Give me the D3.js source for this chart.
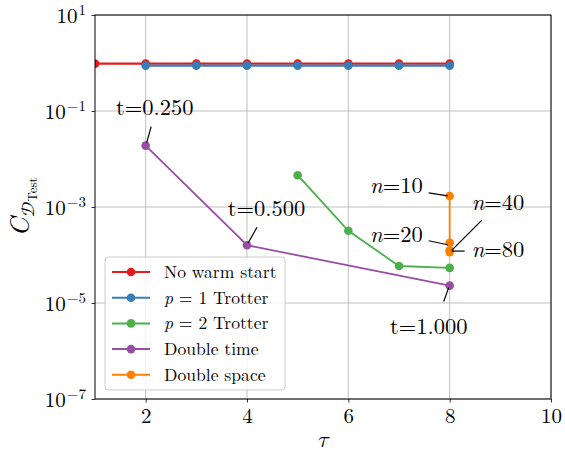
<!DOCTYPE html>
<html>
<head>
<meta charset="utf-8">
<script src="https://cdnjs.cloudflare.com/ajax/libs/d3/7.8.5/d3.min.js"></script>
<style>
  body { margin: 0; background: #fff; }
</style>
</head>
<body>
<div id="chart"></div>
<script>
// data
var seriesNames = ["No warm start", "p = 1 Trotter", "p = 2 Trotter", "Double time", "Double space"];
var seriesColors = ["#e41a1c", "#377eb8", "#4daf4a", "#984ea3", "#ff7f00"];

var tauNoWarm = [1, 2, 3, 4, 5, 6, 7, 8];
var costNoWarm = [0.97, 0.97, 0.97, 0.97, 0.97, 0.97, 0.97, 0.97];

var tauP1 = [2, 3, 4, 5, 6, 7, 8];
var costP1 = [0.88, 0.88, 0.88, 0.88, 0.88, 0.88, 0.88];

var tauP2 = [5, 6, 7, 8];
var costP2 = [4.6e-3, 3.2e-4, 5.9e-5, 5.4e-5];

var tauDoubleTime = [2, 4, 8];
var costDoubleTime = [1.9e-2, 1.6e-4, 2.3e-5];
var labelsDoubleTime = ["t=0.250", "t=0.500", "t=1.000"];

var tauDoubleSpace = [8, 8, 8, 8];
var costDoubleSpace = [1.7e-3, 1.8e-4, 1.25e-4, 1.15e-4];
var labelsDoubleSpace = ["10", "20", "40", "80"];

var xTicks = [2, 4, 6, 8, 10];
var yTickExps = [1, -1, -3, -5, -7];

var svgWidth = 565;
var svgHeight = 460;
var margin = { top: 15, right: 14, bottom: 61, left: 95 };
var width = svgWidth - margin.left - margin.right;
var height = svgHeight - margin.top - margin.bottom;

var mathFont = "'Latin Modern Math', 'STIX Two Math', 'Latin Modern Roman', serif";

var svg = d3.select("#chart")
  .append("svg")
  .attr("width", svgWidth)
  .attr("height", svgHeight)
  .style("font-family", "'Latin Modern Roman', 'CMU Serif', serif");

var chartGroup = svg.append("g")
  .attr("transform", `translate(${margin.left}, ${margin.top})`);

var xScale = d3.scaleLinear().domain([1, 10]).range([0, width]);
var yScale = d3.scaleLog().domain([1e-7, 10]).range([height, 0]);

svg.append("defs").append("clipPath")
  .attr("id", "plot-clip")
  .append("rect")
  .attr("width", width)
  .attr("height", height);

// grid
var grid = chartGroup.append("g");
xTicks.forEach(function(t) {
  grid.append("line")
    .attr("x1", xScale(t)).attr("x2", xScale(t))
    .attr("y1", 0).attr("y2", height)
    .attr("stroke", "#b0b0b0").attr("stroke-width", 0.8);
});
yTickExps.forEach(function(e) {
  grid.append("line")
    .attr("x1", 0).attr("x2", width)
    .attr("y1", yScale(Math.pow(10, e))).attr("y2", yScale(Math.pow(10, e)))
    .attr("stroke", "#b0b0b0").attr("stroke-width", 0.8);
});

// axes
var bottomAxis = d3.axisBottom(xScale).tickValues(xTicks).tickSize(3.5).tickPadding(6).tickFormat(d3.format("d"));
var xAxis = chartGroup.append("g")
  .attr("transform", `translate(0, ${height})`)
  .call(bottomAxis)
  .attr("font-family", null)
  .attr("font-size", null);
xAxis.select(".domain").remove();
xAxis.selectAll("text")
  .attr("font-size", 21)
  .attr("fill", "#000");

var leftAxis = d3.axisLeft(yScale)
  .tickValues(yTickExps.map(function(e) { return Math.pow(10, e); }))
  .tickSize(3.5).tickPadding(5)
  .tickFormat("");
var yAxis = chartGroup.append("g").call(leftAxis)
  .attr("font-family", null)
  .attr("font-size", null);
yAxis.select(".domain").remove();
yAxis.selectAll(".tick").each(function(d) {
  var e = Math.round(Math.log10(d));
  var txt = d3.select(this).append("text")
    .attr("x", -9)
    .attr("y", 7.5)
    .attr("text-anchor", "end")
    .attr("fill", "#000")
    .attr("font-size", 21);
  txt.append("tspan").text("10");
  txt.append("tspan")
    .attr("dx", 1)
    .attr("dy", -8)
    .attr("font-size", 15)
    .text(e < 0 ? "\u2212" + Math.abs(e) : String(e));
});
chartGroup.selectAll(".tick line").attr("stroke", "#000").attr("stroke-width", 0.8);

// series
var plot = chartGroup.append("g").attr("clip-path", "url(#plot-clip)");

var allSeries = [
  { tau: tauNoWarm, cost: costNoWarm },
  { tau: tauP1, cost: costP1 },
  { tau: tauP2, cost: costP2 },
  { tau: tauDoubleTime, cost: costDoubleTime },
  { tau: tauDoubleSpace, cost: costDoubleSpace }
];

var line = d3.line()
  .x(function(d) { return xScale(d[0]); })
  .y(function(d) { return yScale(d[1]); });

allSeries.forEach(function(s, i) {
  var pts = d3.zip(s.tau, s.cost);
  plot.append("path")
    .datum(pts)
    .attr("d", line)
    .attr("fill", "none")
    .attr("stroke", seriesColors[i])
    .attr("stroke-width", i < 2 ? 2.2 : 1.8);
  plot.selectAll(null)
    .data(pts)
    .enter()
    .append("circle")
    .attr("cx", function(d) { return xScale(d[0]); })
    .attr("cy", function(d) { return yScale(d[1]); })
    .attr("r", 4.3)
    .attr("fill", seriesColors[i]);
});

// frame
chartGroup.append("rect")
  .attr("width", width)
  .attr("height", height)
  .attr("fill", "none")
  .attr("stroke", "#000")
  .attr("stroke-width", 1);

// annotations
// [text dx, text dy, anchor, line x1, y1, x2, y2] relative to the point
var timeOffsets = [
  [9, -31, "middle", 1, -3, 5.5, -19],
  [19.5, -29, "middle", 1, -2, 10, -18],
  [-21, 48, "middle", -1, 2, -6, 16]
];
var spaceOffsets = [
  [-27, -3, "end", -2, 0, -21, -3],
  [-27, -1, "end", -2, 2, -21, -2],
  [22, -40, "start", 2, 0, 32, -30],
  [22, 5, "start", 2, -1, 15, -1]
];

function annotate(x, y, off, parts) {
  var px = xScale(x), py = yScale(y);
  chartGroup.append("line")
    .attr("x1", px + off[3]).attr("y1", py + off[4])
    .attr("x2", px + off[5]).attr("y2", py + off[6])
    .attr("stroke", "#000").attr("stroke-width", 1.2);
  var t = chartGroup.append("text")
    .attr("x", px + off[0])
    .attr("y", py + off[1])
    .attr("text-anchor", off[2])
    .attr("font-size", 22.5)
    .attr("fill", "#000");
  parts.forEach(function(p) {
    t.append("tspan").attr("font-style", p[1] ? "italic" : "normal").text(p[0]);
  });
}

tauDoubleTime.forEach(function(t, i) {
  annotate(t, costDoubleTime[i], timeOffsets[i], [[labelsDoubleTime[i], false]]);
});
tauDoubleSpace.forEach(function(t, i) {
  annotate(t, costDoubleSpace[i], spaceOffsets[i], [["n", true], ["=" + labelsDoubleSpace[i], false]]);
});

// legend
var legend = chartGroup.append("g").attr("transform", "translate(10, 242)");
legend.append("rect")
  .attr("width", 180)
  .attr("height", 133)
  .attr("rx", 3)
  .attr("fill", "#fff")
  .attr("fill-opacity", 0.8)
  .attr("stroke", "#cccccc")
  .attr("stroke-width", 1);

seriesNames.forEach(function(name, i) {
  var ly = 15 + i * 25.7;
  legend.append("line")
    .attr("x1", 7).attr("x2", 45)
    .attr("y1", ly).attr("y2", ly)
    .attr("stroke", seriesColors[i]).attr("stroke-width", 2);
  legend.append("circle")
    .attr("cx", 26).attr("cy", ly).attr("r", 4.3)
    .attr("fill", seriesColors[i]);
  var t = legend.append("text")
    .attr("x", 59)
    .attr("y", ly + 6)
    .attr("font-size", 17.6)
    .attr("fill", "#000");
  if (name.indexOf("p = ") === 0) {
    t.append("tspan").attr("font-style", "italic").text("p");
    t.append("tspan").text(" = " + name.slice(4));
  } else {
    t.text(name);
  }
});

// axis labels
svg.append("text")
  .attr("x", margin.left + width / 2)
  .attr("y", 447)
  .attr("text-anchor", "middle")
  .attr("font-size", 23)
  .style("font-family", mathFont)
  .text("\ud835\udf0f");

var yLabel = svg.append("text")
  .attr("transform", `translate(29, ${margin.top + height / 2}) rotate(-90)`)
  .attr("text-anchor", "middle")
  .attr("font-size", 27)
  .attr("font-style", "italic");
yLabel.append("tspan").text("C");
yLabel.append("tspan").attr("dy", 5).attr("font-size", 18).attr("font-style", "normal")
  .style("font-family", mathFont).text("\ud835\udc9f");
yLabel.append("tspan").attr("dy", 3).attr("font-size", 13).attr("font-style", "normal").text("Test");
</script>
</body>
</html>
